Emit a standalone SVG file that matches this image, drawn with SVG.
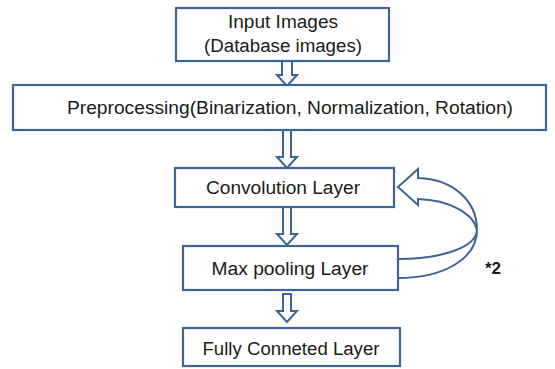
<svg xmlns="http://www.w3.org/2000/svg" width="555" height="369" viewBox="0 0 555 369">
<style>
.box{fill:#ffffff;stroke:#3d6596;stroke-width:2.2}
.arr{fill:#ffffff;stroke:#3d6596;stroke-width:2;stroke-linejoin:miter}
.t{font-family:"Liberation Sans",Arial,sans-serif;font-size:18px;fill:#1a1a1a;text-anchor:middle}
.b{font-family:"Liberation Sans",Arial,sans-serif;font-size:17px;font-weight:bold;fill:#1a1a1a}
</style>
<rect width="555" height="369" fill="#ffffff"/>
<g id="connectors">
<path class="arr" d="M282,61 L292,61 L292,75 L297,75 L287,86 L277,75 L282,75 Z"/>
<path class="arr" d="M283,130 L291,130 L291,157 L297,157 L287,168 L277,157 L283,157 Z"/>
<path class="arr" d="M283,207 L291,207 L291,234 L297,234 L287,245 L277,234 L283,234 Z"/>
<path class="arr" d="M283,294 L291,294 L291,311 L297,311 L287,322 L277,311 L283,311 Z"/>
<path class="arr" d="M398,259 C440,259 476,248 477,230 C477,258 445,278 398,278 Z"/>
<path class="arr" d="M418,178 L418,169 L398,187 L418,205 L418,199 C450,200 474,214 477,230 C477,200 452,179 418,178 Z"/>
</g>
<g id="input">
<rect class="box" x="176" y="8" width="213" height="53"/>
<text class="t" x="283" y="28" textLength="110" lengthAdjust="spacingAndGlyphs">Input Images</text>
<text class="t" x="283" y="52" textLength="158" lengthAdjust="spacingAndGlyphs">(Database images)</text>
</g>
<g id="preprocessing">
<rect class="box" x="13" y="85" width="533" height="45"/>
<text class="t" x="290" y="114" textLength="446" lengthAdjust="spacingAndGlyphs">Preprocessing(Binarization, Normalization, Rotation)</text>
</g>
<g id="convolution">
<rect class="box" x="175" y="168" width="219" height="39"/>
<text class="t" x="283" y="194" textLength="154" lengthAdjust="spacingAndGlyphs">Convolution Layer</text>
</g>
<g id="maxpooling">
<rect class="box" x="183" y="246" width="215" height="44"/>
<text class="t" x="290" y="275" textLength="157" lengthAdjust="spacingAndGlyphs">Max pooling Layer</text>
</g>
<g id="fullyconnected">
<rect class="box" x="183" y="328" width="217" height="38"/>
<text class="t" x="291" y="355" textLength="177" lengthAdjust="spacingAndGlyphs">Fully Conneted Layer</text>
</g>
<g id="label">
<text class="b" x="485" y="274">*2</text>
</g>
</svg>
